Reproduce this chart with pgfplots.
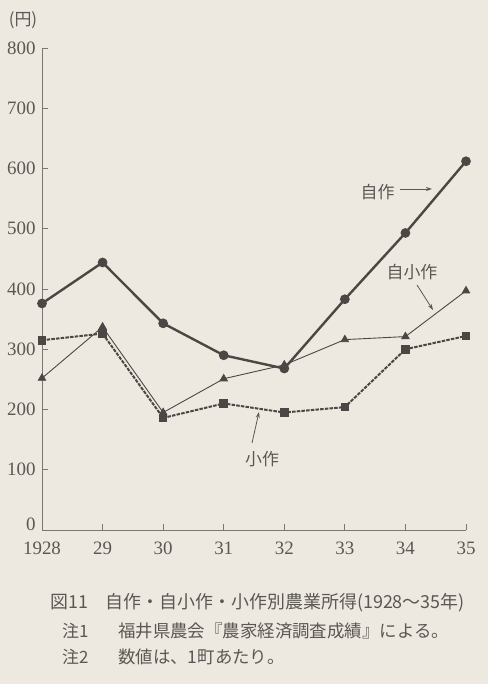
\documentclass[border=0pt]{standalone}
\usepackage{pgfplots}
\pgfplotsset{compat=1.18}
\usepackage{fontspec}
\setmainfont{Liberation Serif}
\newfontfamily\cjk{Noto Sans CJK JP}
\usetikzlibrary{arrows.meta}
\definecolor{bg}{HTML}{EEE9E0}
\definecolor{ln}{HTML}{4A4744}
\definecolor{tx}{HTML}{5A5754}
\definecolor{ax}{HTML}{7A7672}
\begin{document}
\begin{tikzpicture}[x=1bp,y=1bp]
\fill[bg] (0,0) rectangle (488,684);
\useasboundingbox (0,0) rectangle (488,684);
\begin{axis}[
  at={(42bp,154bp)}, anchor=south west,
  scale only axis, width=424bp, height=482bp,
  xmin=1928, xmax=1935, ymin=0, ymax=800,
  axis x line*=bottom, axis y line*=left,
  xtick={1928,1929,1930,1931,1932,1933,1934,1935},
  xticklabels={1928,29,30,31,32,33,34,35},
  ytick={100,200,300,400,500,600,700,800},
  extra y ticks={0},
  extra y tick style={yticklabel style={yshift=6bp}},
  tick align=inside, major tick length=6bp,
  tick style={ax, line width=0.8bp},
  axis line style={ax, line width=0.9bp},
  ticklabel style={font=\fontsize{19}{19}\selectfont, text=tx},
  /pgf/number format/assume math mode=true,
  yticklabel style={xshift=-3bp},
  xticklabel style={yshift=-8bp},
  scaled ticks=false,
  clip=false,
]
% 小作
\addplot[ln, line width=2bp, dash pattern=on 3.5bp off 1.2bp, mark=square*, mark size=3.3bp, mark options={solid}]
  coordinates {(1928,315) (1929,326) (1930,186) (1931,210) (1932,195) (1933,204) (1934,300) (1935,322)};
% 自小作
\addplot[ln, line width=0.9bp, mark=triangle*, mark size=4.2bp]
  coordinates {(1928,252) (1929,337) (1930,195) (1931,251) (1932,274) (1933,316) (1934,321) (1935,397)};
% 自作
\addplot[ln, line width=2.4bp, mark=*, mark size=3.6bp]
  coordinates {(1928,376) (1929,444) (1930,343) (1931,290) (1932,268) (1933,383) (1934,493) (1935,612)};
\end{axis}
\node[text=tx, font=\cjk\fontsize{17}{17}\selectfont] at (23,664) {(円)};
\node[text=tx, font=\cjk\fontsize{17}{17}\selectfont] at (377.5,492.3) {自作};
\draw[tx, line width=0.8bp, -{Stealth[length=6bp,width=4bp]}] (400,495) -- (432,495);
\node[text=tx, font=\cjk\fontsize{17}{17}\selectfont] at (412,412.3) {自小作};
\draw[tx, line width=0.8bp, -{Stealth[length=6bp,width=4bp]}] (417,399) -- (433,374);
\node[text=tx, font=\cjk\fontsize{17}{17}\selectfont] at (262,225) {小作};
\draw[tx, line width=0.8bp, -{Stealth[length=6bp,width=4bp]}] (252,241) -- (259,272);
\node[anchor=west, text=tx, inner sep=0pt, font=\cjk\fontsize{18}{18}\selectfont] at (50,81) {図11　自作・自小作・小作別農業所得(1928〜35年)};
\node[anchor=west, text=tx, inner sep=0pt, font=\cjk\fontsize{17}{17}\selectfont] at (62,53) {注1};
\node[anchor=west, text=tx, inner sep=0pt, font=\cjk\fontsize{17.5}{17.5}\selectfont] at (118,53) {福井県農会『農家経済調査成績』による。};
\node[anchor=west, text=tx, inner sep=0pt, font=\cjk\fontsize{17}{17}\selectfont] at (62,27) {注2};
\node[anchor=west, text=tx, inner sep=0pt, font=\cjk\fontsize{17.5}{17.5}\selectfont] at (118,27) {数値は、1町あたり。};
\end{tikzpicture}
\end{document}
